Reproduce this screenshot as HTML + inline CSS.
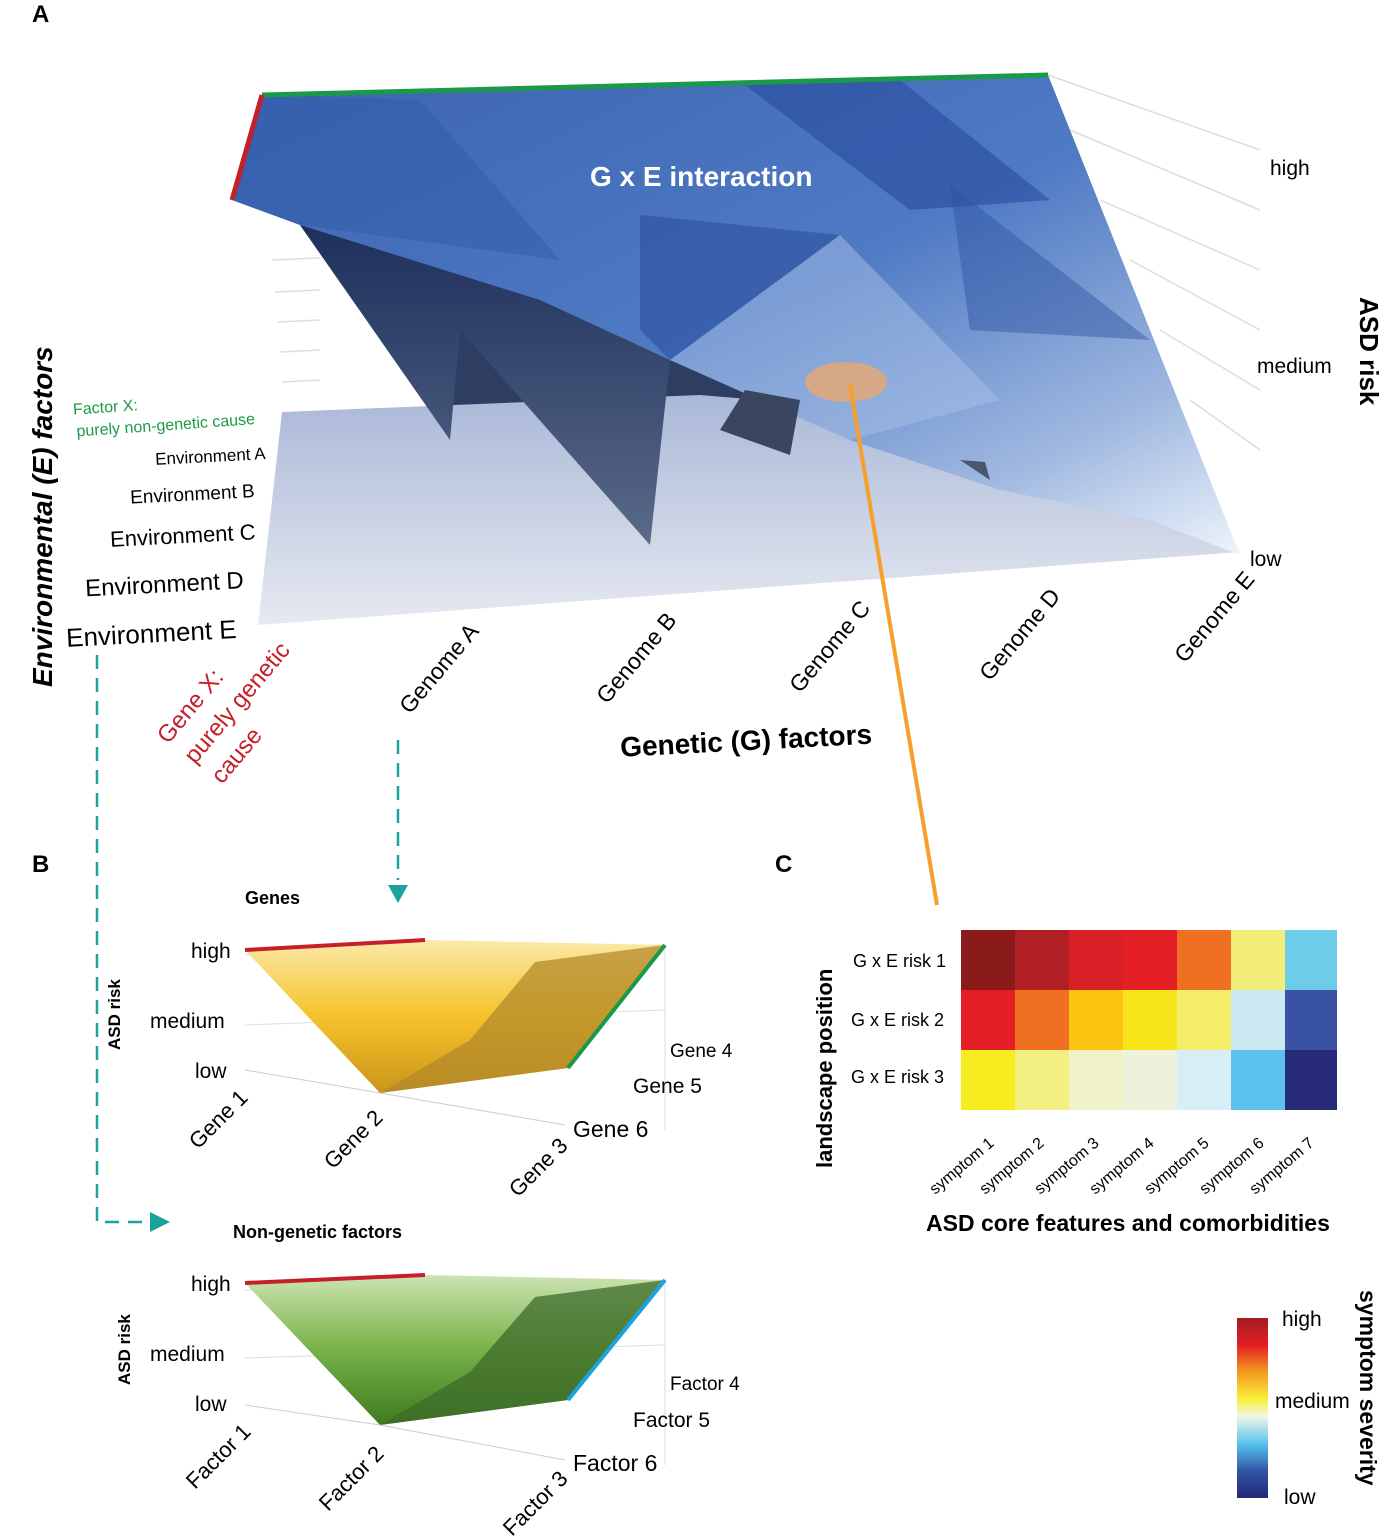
<!DOCTYPE html>
<html><head><meta charset="utf-8"><style>
body{margin:0;background:#fff;}
svg{display:block;font-family:"Liberation Sans",sans-serif;}
</style></head><body>
<svg width="1384" height="1539" viewBox="0 0 1384 1539">
<defs>
<linearGradient id="floor" x1="0" y1="0" x2="0" y2="1"><stop offset="0" stop-color="#aab8d8"/><stop offset="1" stop-color="#e6e9f0"/></linearGradient>
<linearGradient id="surf" x1="0" y1="0" x2="1" y2="1"><stop offset="0" stop-color="#3c63b0"/><stop offset="0.5" stop-color="#4f7ac4"/><stop offset="0.8" stop-color="#9fb8e0"/><stop offset="1" stop-color="#eef4fb"/></linearGradient>
<linearGradient id="dark" x1="0" y1="0" x2="0" y2="1"><stop offset="0" stop-color="#1d2f5c"/><stop offset="1" stop-color="#5a6a88"/></linearGradient>
<linearGradient id="yel" x1="0" y1="0" x2="0" y2="1"><stop offset="0" stop-color="#fbe9a8"/><stop offset="0.5" stop-color="#f6c22a"/><stop offset="1" stop-color="#c9961a"/></linearGradient>
<linearGradient id="grn" x1="0" y1="0" x2="0" y2="1"><stop offset="0" stop-color="#cde3b4"/><stop offset="0.5" stop-color="#76b247"/><stop offset="1" stop-color="#3f7a22"/></linearGradient>
<linearGradient id="cb" x1="0" y1="0" x2="0" y2="1"><stop offset="0" stop-color="#a31c22"/><stop offset="0.15" stop-color="#e31e24"/><stop offset="0.3" stop-color="#f39a1e"/><stop offset="0.45" stop-color="#f9ef3a"/><stop offset="0.55" stop-color="#eef5ea"/><stop offset="0.7" stop-color="#55c3ec"/><stop offset="0.85" stop-color="#3155a5"/><stop offset="1" stop-color="#232878"/></linearGradient>
</defs>
<text x="32" y="22" font-size="24" font-weight="bold">A</text>
<g stroke="#ddd" stroke-width="1.5">
<line x1="1048" y1="75" x2="1260" y2="150"/><line x1="1070" y1="130" x2="1260" y2="210"/><line x1="1100" y1="200" x2="1260" y2="270"/><line x1="1130" y1="260" x2="1260" y2="330"/><line x1="1160" y1="330" x2="1260" y2="390"/><line x1="1190" y1="400" x2="1260" y2="450"/>
<line x1="272" y1="260" x2="320" y2="258"/><line x1="275" y1="292" x2="320" y2="290"/><line x1="278" y1="322" x2="320" y2="320"/><line x1="280" y1="352" x2="320" y2="350"/><line x1="282" y1="382" x2="320" y2="380"/>
</g>
<polygon points="300,225 670,360 750,392 745,405 430,410" fill="#2e3d62"/>
<polygon points="282,412 700,395 1000,420 1240,552 258,625" fill="url(#floor)"/>
<polygon points="262,95 1048,75 1240,555 1150,520 1000,490 850,440 670,360 300,225 232,200" fill="url(#surf)"/>
<polygon points="262,95 420,100 560,260 300,225 232,200" fill="#2f58a8" opacity="0.45"/>
<polygon points="745,85 900,80 1050,200 910,210" fill="#24479a" opacity="0.55"/>
<polygon points="640,215 840,235 670,360 640,330" fill="#2a4c9a" opacity="0.55"/>
<polygon points="950,185 1150,340 970,330" fill="#2d519f" opacity="0.45"/>
<polygon points="670,360 840,235 1000,400 850,440" fill="#a8c0e6" opacity="0.5"/>
<polygon points="300,225 450,440 460,330 650,545 670,360 540,300" fill="url(#dark)"/>
<polygon points="720,430 790,455 800,400 745,390" fill="#3a4660"/>
<polygon points="960,460 990,480 985,462" fill="#4a5570"/>
<ellipse cx="846" cy="382" rx="41" ry="20" fill="#e8a870" opacity="0.8"/>
<line x1="262" y1="95" x2="1048" y2="75" stroke="#1a9a48" stroke-width="5"/>
<line x1="262" y1="95" x2="232" y2="200" stroke="#c4202a" stroke-width="5"/>
<line x1="850" y1="385" x2="937" y2="905" stroke="#f5a02a" stroke-width="4"/>
<text x="590" y="186" font-size="28" font-weight="bold" fill="#fff">G x E interaction</text>
<text x="1270" y="175" font-size="21">high</text>
<text x="1257" y="373" font-size="21">medium</text>
<text x="1250" y="566" font-size="21">low</text>
<text transform="translate(1360,297) rotate(90)" font-size="26" font-weight="bold">ASD risk</text>
<text transform="translate(52,687) rotate(-90)" font-size="28" font-weight="bold" font-style="italic">Environmental (E) factors</text>
<g transform="rotate(-4 170 420)">
<text x="74" y="408" font-size="16" fill="#1a9a48">Factor X:</text>
<text x="76" y="430" font-size="16" fill="#1a9a48">purely non-genetic cause</text>
</g>
<text x="155" y="462" font-size="17" transform="rotate(-3 210 455)">Environment A</text>
<text x="130" y="500" font-size="19" transform="rotate(-3 200 492)">Environment B</text>
<text x="110" y="543" font-size="22" transform="rotate(-3 185 535)">Environment C</text>
<text x="85" y="592" font-size="24" transform="rotate(-3 170 583)">Environment D</text>
<text x="66" y="642" font-size="26" transform="rotate(-3 160 632)">Environment E</text>
<g font-size="23">
<text transform="translate(410,715) rotate(-50)">Genome A</text>
<text transform="translate(607,705) rotate(-50)">Genome B</text>
<text transform="translate(800,694) rotate(-50)">Genome C</text>
<text transform="translate(990,682) rotate(-50)">Genome D</text>
<text transform="translate(1185,664) rotate(-50)">Genome E</text>
</g>
<text transform="translate(168,745) rotate(-50)" font-size="24" fill="#c4202a">Gene X:</text>
<text transform="translate(195,765) rotate(-50)" font-size="24" fill="#c4202a">purely genetic</text>
<text transform="translate(222,785) rotate(-50)" font-size="24" fill="#c4202a">cause</text>
<text x="620" y="750" font-size="28" font-weight="bold" transform="rotate(-3 750 740)">Genetic (G) factors</text>
<g stroke="#1aa39a" stroke-width="2.5" fill="none" stroke-dasharray="14 9">
<path d="M97,655 V1222 H150"/><path d="M398,740 V880"/>
</g>
<polygon points="388,885 408,885 398,903" fill="#1aa39a"/>
<polygon points="150,1212 150,1232 170,1222" fill="#1aa39a"/>
<text x="32" y="872" font-size="24" font-weight="bold">B</text>
<text x="775" y="872" font-size="24" font-weight="bold">C</text>
<text x="245" y="904" font-size="18" font-weight="bold">Genes</text>
<g stroke="#ddd"><line x1="245" y1="955" x2="665" y2="945"/><line x1="245" y1="1025" x2="665" y2="1010"/><line x1="665" y1="945" x2="665" y2="1130"/></g>
<polygon points="245,950 425,940 665,945 568,1068 380,1093" fill="url(#yel)"/>
<polygon points="535,962 665,945 568,1068 380,1093 470,1040" fill="#b38a2a" opacity="0.75"/>
<line x1="245" y1="950" x2="425" y2="940" stroke="#c4202a" stroke-width="4"/>
<line x1="665" y1="945" x2="568" y2="1068" stroke="#1a9a48" stroke-width="4"/>
<line x1="245" y1="1070" x2="380" y2="1093" stroke="#ccc"/><line x1="380" y1="1093" x2="565" y2="1125" stroke="#ccc"/>
<text transform="translate(120,1050) rotate(-90)" font-size="17" font-weight="bold">ASD risk</text>
<text x="191" y="958" font-size="21">high</text><text x="150" y="1028" font-size="21">medium</text><text x="195" y="1078" font-size="21">low</text>
<text transform="translate(198,1150) rotate(-45)" font-size="22">Gene 1</text>
<text transform="translate(333,1170) rotate(-45)" font-size="22">Gene 2</text>
<text transform="translate(518,1198) rotate(-45)" font-size="22">Gene 3</text>
<text x="670" y="1057" font-size="19">Gene 4</text><text x="633" y="1093" font-size="21">Gene 5</text><text x="573" y="1137" font-size="23">Gene 6</text>
<text x="233" y="1238" font-size="18" font-weight="bold">Non-genetic factors</text>
<g stroke="#ddd"><line x1="245" y1="1290" x2="665" y2="1280"/><line x1="245" y1="1358" x2="665" y2="1345"/><line x1="665" y1="1280" x2="665" y2="1465"/></g>
<polygon points="245,1283 425,1275 665,1280 568,1400 380,1425" fill="url(#grn)"/>
<polygon points="535,1297 665,1280 568,1400 380,1425 470,1372" fill="#3e6b2a" opacity="0.75"/>
<line x1="245" y1="1283" x2="425" y2="1275" stroke="#c4202a" stroke-width="4"/>
<line x1="665" y1="1280" x2="568" y2="1400" stroke="#1aa3e0" stroke-width="4"/>
<line x1="245" y1="1405" x2="380" y2="1425" stroke="#ccc"/><line x1="380" y1="1425" x2="565" y2="1460" stroke="#ccc"/>
<text transform="translate(130,1385) rotate(-90)" font-size="17" font-weight="bold">ASD risk</text>
<text x="191" y="1291" font-size="21">high</text><text x="150" y="1361" font-size="21">medium</text><text x="195" y="1411" font-size="21">low</text>
<text transform="translate(195,1490) rotate(-45)" font-size="22">Factor 1</text>
<text transform="translate(328,1512) rotate(-45)" font-size="22">Factor 2</text>
<text transform="translate(512,1537) rotate(-45)" font-size="22">Factor 3</text>
<text x="670" y="1390" font-size="19">Factor 4</text><text x="633" y="1427" font-size="21">Factor 5</text><text x="573" y="1471" font-size="23">Factor 6</text>
<g>
<rect x="961" y="930" width="54" height="60" fill="#8b1a1a"/><rect x="1015" y="930" width="54" height="60" fill="#b01f24"/><rect x="1069" y="930" width="54" height="60" fill="#d92026"/><rect x="1123" y="930" width="54" height="60" fill="#e31e24"/><rect x="1177" y="930" width="54" height="60" fill="#f07022"/><rect x="1231" y="930" width="54" height="60" fill="#f3ee7a"/><rect x="1285" y="930" width="52" height="60" fill="#6dcde8"/>
<rect x="961" y="990" width="54" height="60" fill="#e31e24"/><rect x="1015" y="990" width="54" height="60" fill="#f07022"/><rect x="1069" y="990" width="54" height="60" fill="#fcc512"/><rect x="1123" y="990" width="54" height="60" fill="#f9e51b"/><rect x="1177" y="990" width="54" height="60" fill="#f4ee6a"/><rect x="1231" y="990" width="54" height="60" fill="#cbe9f1"/><rect x="1285" y="990" width="52" height="60" fill="#3a52a4"/>
<rect x="961" y="1050" width="54" height="60" fill="#f7ec1d"/><rect x="1015" y="1050" width="54" height="60" fill="#f3ef80"/><rect x="1069" y="1050" width="54" height="60" fill="#f2f2c8"/><rect x="1123" y="1050" width="54" height="60" fill="#eef1dc"/><rect x="1177" y="1050" width="54" height="60" fill="#d6eef5"/><rect x="1231" y="1050" width="54" height="60" fill="#5cc1ec"/><rect x="1285" y="1050" width="52" height="60" fill="#262a78"/>
</g>
<g font-size="18"><text x="853" y="967">G x E risk 1</text><text x="851" y="1026">G x E risk 2</text><text x="851" y="1083">G x E risk 3</text></g>
<text transform="translate(832,1168) rotate(-90)" font-size="22" font-weight="bold">landscape position</text>
<g font-size="16">
<text transform="translate(935,1195) rotate(-40)">symptom 1</text>
<text transform="translate(985,1195) rotate(-40)">symptom 2</text>
<text transform="translate(1040,1195) rotate(-40)">symptom 3</text>
<text transform="translate(1095,1195) rotate(-40)">symptom 4</text>
<text transform="translate(1150,1195) rotate(-40)">symptom 5</text>
<text transform="translate(1205,1195) rotate(-40)">symptom 6</text>
<text transform="translate(1255,1195) rotate(-40)">symptom 7</text>
</g>
<text x="926" y="1231" font-size="23" font-weight="bold">ASD core features and comorbidities</text>
<rect x="1237" y="1318" width="31" height="180" fill="url(#cb)"/>
<text x="1282" y="1326" font-size="21">high</text><text x="1275" y="1408" font-size="21">medium</text><text x="1284" y="1504" font-size="21">low</text>
<text transform="translate(1360,1290) rotate(90)" font-size="23" font-weight="bold">symptom  severity</text>
</svg>
</body></html>
